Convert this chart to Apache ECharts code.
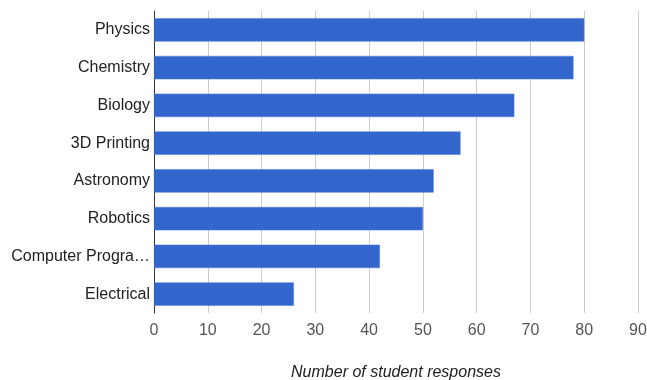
<!DOCTYPE html>
<html>
<head>
<meta charset="utf-8">
<script src="https://cdn.jsdelivr.net/npm/echarts@6/dist/echarts.min.js"></script>
<style>
  html, body { margin: 0; padding: 0; background: #ffffff; }
  #chart { width: 647px; height: 380px; }
</style>
</head>
<body>
<div id="chart"></div>
<script>
// Topics, listed top to bottom
const categories = ['Physics', 'Chemistry', 'Biology', '3D Printing', 'Astronomy', 'Robotics', 'Computer Progra…', 'Electrical'];
// Number of student responses per topic
const responses = [80, 78, 67, 57, 52, 50, 42, 26];
// Value axis ticks
const tickValues = [0, 10, 20, 30, 40, 50, 60, 70, 80, 90];

const chart = echarts.init(document.getElementById('chart'), null, { renderer: 'canvas' });

const font = 'Liberation Sans, Arial, sans-serif';

chart.setOption({
  animation: false,
  backgroundColor: '#ffffff',
  textStyle: { fontFamily: font },
  grid: {
    left: 154, right: 9, top: 11, bottom: 67,
    containLabel: false,
    outerBoundsMode: 'none'
  },
  xAxis: {
    type: 'value',
    min: tickValues[0],
    max: tickValues[tickValues.length - 1],
    interval: 10,
    name: 'Number of student responses',
    nameLocation: 'middle',
    nameGap: 52,
    nameMoveOverlap: false,
    nameTextStyle: { fontStyle: 'italic', fontSize: 16, color: '#222222', fontFamily: font, verticalAlign: 'top' },
    axisLine: { show: false },
    axisTick: { show: false },
    axisLabel: { fontSize: 16, color: '#555555', margin: 10, fontFamily: font },
    splitLine: { show: true, lineStyle: { color: '#cccccc', width: 1 } }
  },
  yAxis: {
    type: 'category',
    data: categories,
    inverse: true,
    axisLine: { show: true, lineStyle: { color: '#333333', width: 1 } },
    axisTick: { show: false },
    axisLabel: { fontSize: 16, color: '#222222', margin: 4, fontFamily: font },
    splitLine: { show: false }
  },
  series: [{
    type: 'bar',
    data: responses,
    barCategoryGap: '38%',
    itemStyle: { color: '#3366cc', borderColor: '#4a78d4', borderWidth: 0.5 }
  }]
});
</script>
</body>
</html>
